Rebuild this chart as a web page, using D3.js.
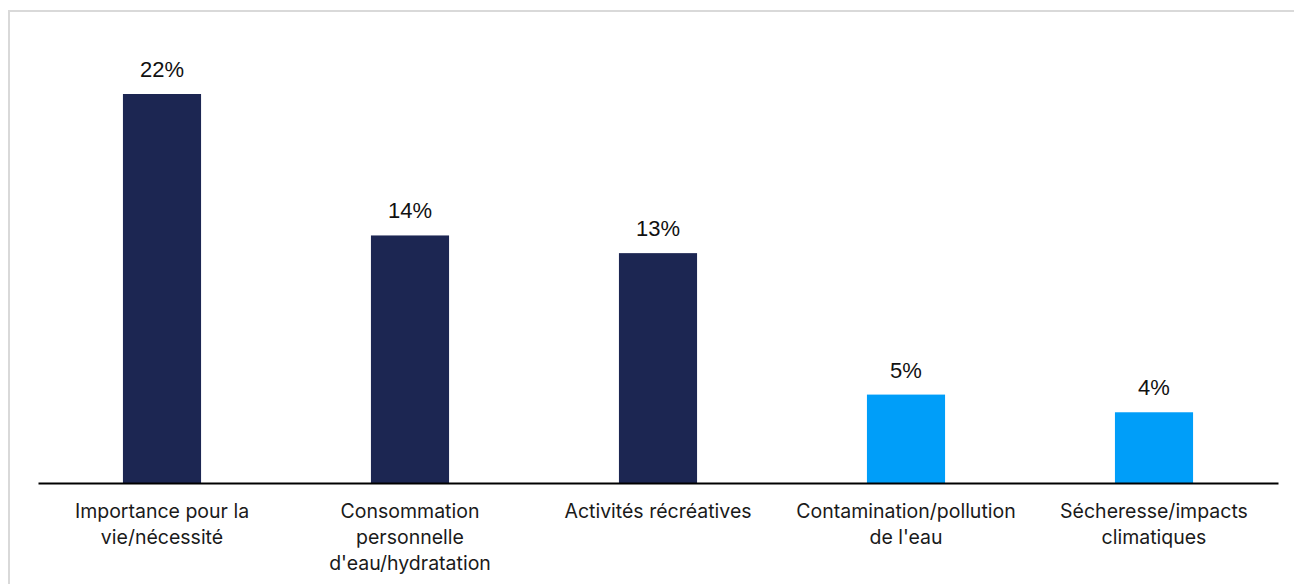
<!DOCTYPE html>
<html>
<head>
<meta charset="utf-8">
<script src="https://cdn.jsdelivr.net/npm/d3@7"></script>
<style>
  html, body { margin: 0; padding: 0; background: #fff; }
  svg { display: block; }
</style>
</head>
<body>
<svg id="chart" width="1294" height="584"></svg>
<script>
// Reasons cited, share of respondents (%)
const categories = [
  ["Importance pour la", "vie/nécessité"],
  ["Consommation", "personnelle", "d'eau/hydratation"],
  ["Activités récréatives"],
  ["Contamination/pollution", "de l'eau"],
  ["Sécheresse/impacts", "climatiques"]
];
const values = [22, 14, 13, 5, 4];
const valueLabels = ["22%", "14%", "13%", "5%", "4%"];
const groups = ["main", "main", "main", "env", "env"];

const W = 1294, H = 584;
const svg = d3.select("#chart");

// outer frame
svg.append("rect")
  .attr("x", 9).attr("y", 11)
  .attr("width", W + 10).attr("height", H + 10)
  .attr("fill", "none")
  .attr("stroke", "#d9d9d9")
  .attr("stroke-width", 2);

const baseY = 483;
const x = d3.scaleBand()
  .domain(d3.range(values.length))
  .range([38, 1278])
  .paddingInner(0.685)
  .paddingOuter(0.3425);

const y = d3.scaleLinear()
  .domain([0, 22])
  .range([baseY, 94]);

const color = d3.scaleOrdinal()
  .domain(["main", "env"])
  .range(["#1c2652", "#009ef9"]);

svg.append("g")
  .selectAll("rect")
  .data(values)
  .join("rect")
  .attr("x", (d, i) => x(i))
  .attr("y", d => y(d))
  .attr("width", x.bandwidth())
  .attr("height", d => baseY - y(d))
  .attr("fill", (d, i) => color(groups[i]));

// value labels
svg.append("g")
  .selectAll("text")
  .data(values)
  .join("text")
  .attr("x", (d, i) => x(i) + x.bandwidth() / 2)
  .attr("y", d => y(d) - 17)
  .attr("text-anchor", "middle")
  .attr("font-family", "'Liberation Sans', Arial, sans-serif")
  .attr("font-size", 22)
  .attr("fill", "#111")
  .text((d, i) => valueLabels[i]);

// category axis
const axis = d3.axisBottom(x).tickSize(0).tickFormat("");
const ax = svg.append("g")
  .attr("transform", `translate(0,${baseY})`)
  .call(axis);
ax.select(".domain").attr("stroke", "#000").attr("stroke-width", 2);

const labels = svg.append("g")
  .selectAll("text")
  .data(categories)
  .join("text")
  .attr("x", (d, i) => x(i) + x.bandwidth() / 2)
  .attr("y", 518)
  .attr("text-anchor", "middle")
  .attr("font-family", "Inter, 'Noto Sans', sans-serif")
  .attr("font-size", 19.5)
  .attr("fill", "#1a1a1a");

labels.selectAll("tspan")
  .data(d => d)
  .join("tspan")
  .attr("x", function () { return d3.select(this.parentNode).attr("x"); })
  .attr("dy", (d, j) => j === 0 ? 0 : 26)
  .text(d => d);
</script>
</body>
</html>
